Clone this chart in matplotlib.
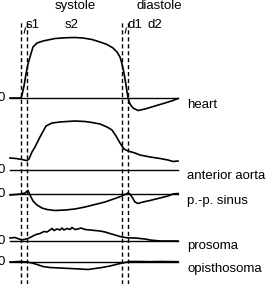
import matplotlib
matplotlib.use('Agg')
import matplotlib.pyplot as plt

# time axis in arbitrary units (one cardiac cycle ~ 0..168)
heartT = [0, 11, 12, 14, 16, 18, 20, 23, 27, 33, 45, 57, 65, 73, 82, 90, 97, 103, 107, 110,
          112, 114, 116, 118, 120, 123, 128, 135, 145, 155, 163, 168]
heartV = [0, 0, 3, 12, 24, 34, 41, 51, 55, 57, 59.5, 60.3, 60.5, 60, 58.5, 56, 53.5, 50, 46, 41,
          34, 25, 13, 0, -6, -10, -12.5, -11, -8, -5, -2.5, -0.5]

aortaT = [0, 6, 12, 17, 19, 22, 25, 30, 36, 42, 50, 57, 65, 75, 82, 90, 97, 102, 106, 110,
          114, 118, 125, 130, 140, 150, 158, 163, 168]
aortaV = [12, 11.5, 10.5, 9.3, 11, 18, 23, 33, 44, 47, 48, 48.5, 49, 48.5, 47.5, 46, 43, 40, 34, 27,
          21, 19, 17, 15, 13, 11.5, 10, 8.5, 9]

sinusT = [0, 6, 11, 15, 18, 20, 23, 27, 32, 37, 45, 55, 65, 75, 85, 95, 105, 112, 116, 118,
          120, 122, 125, 128, 133, 140, 150, 158, 163, 168]
sinusV = [-1, -0.5, 0, 1, 3.5, -1, -7, -11, -14, -15.5, -16.5, -16, -15, -13, -10.5, -8, -4.5, -2, 0, 1,
          0, -3, -8, -9.5, -8, -6.5, -4, -2, 0, 0.5]

prosomaT = [0, 5, 9, 12, 16, 18, 22, 26, 30, 34, 37, 40, 42, 44, 47, 50, 52, 54, 57, 60, 62, 65,
            68, 71, 75, 80, 85, 90, 95, 100, 105, 110, 115, 120, 125, 130, 135, 140, 145, 150, 160, 168]
prosomaV = [3, 3.5, 2, 1, 2, 2.5, 4.5, 6.5, 7.5, 9.5, 9, 11, 12.5, 10.5, 12, 11, 13, 11, 12.5, 11.5, 13.5, 11.5,
            12, 13, 11.5, 11, 10.5, 10, 9, 7.5, 6, 4.5, 3.5, 3, 3, 2.5, 2, 1, 0.5, 0, 0, 0]

opisT = [0, 10, 17, 22, 27, 33, 40, 50, 60, 70, 78, 85, 92, 100, 108, 115, 120, 130, 140, 150, 168]
opisV = [0, 0.5, 0, -1, -2.5, -4.5, -5.5, -6, -6.5, -7, -7.5, -6.5, -5.5, -4, -2, -0.5, 0.5, 0.5, 0.3, 0.5, 0.3]

traces = [(heartT, heartV, 'heart'),
          (aortaT, aortaV, 'anterior aorta'),
          (sinusT, sinusV, 'p.-p. sinus'),
          (prosomaT, prosomaV, 'prosoma'),
          (opisT, opisV, 'opisthosoma')]
offsets = [186, 114, 90, 43, 22]
labelShift = [-7, -6, -7, -5, -7]

phaseLines = [11, 17, 112, 118]
phaseNames = ['systole', 'diastole']
phaseNameX = [65, 149.5]
subNames = ['s1', 's2', 'd1', 'd2']
subNameX = [16, 55, 117, 137]

plt.rcParams['font.family'] = ['Liberation Sans', 'DejaVu Sans']
fig = plt.figure(figsize=(2.66, 2.84), dpi=100)
ax = fig.add_axes([0, 0, 1, 1])
ax.set_xlim(-10, 256)
ax.set_ylim(0, 284)
ax.axis('off')

for (t, v, name), off, sh in zip(traces, offsets, labelShift):
    ax.plot([0, 168], [off, off], color='black', lw=1.0)
    ax.plot(t, [val + off for val in v], color='black', lw=1.2)
    ax.text(-8.5, off, '0', fontsize=9.5, ha='center', va='center')
    ax.text(177, off + sh, name, fontsize=9.5, ha='left', va='center')

for x in phaseLines:
    ax.plot([x, x], [0, 262], color='black', lw=1.0, ls=(0, (3, 2)))

for name, x in zip(phaseNames, phaseNameX):
    ax.text(x, 278, name, fontsize=9.5, ha='center', va='center')
for name, x in zip(subNames, subNameX):
    ax.text(x, 259, name, fontsize=9.5, ha='left', va='center')

# small pointers from s1 / d1 labels into the gap between dashed lines
ax.plot([14.2, 15.4], [251, 256], color='black', lw=0.8)
ax.plot([115.2, 116.4], [251, 256], color='black', lw=0.8)

fig.savefig('out.png', dpi=100)
